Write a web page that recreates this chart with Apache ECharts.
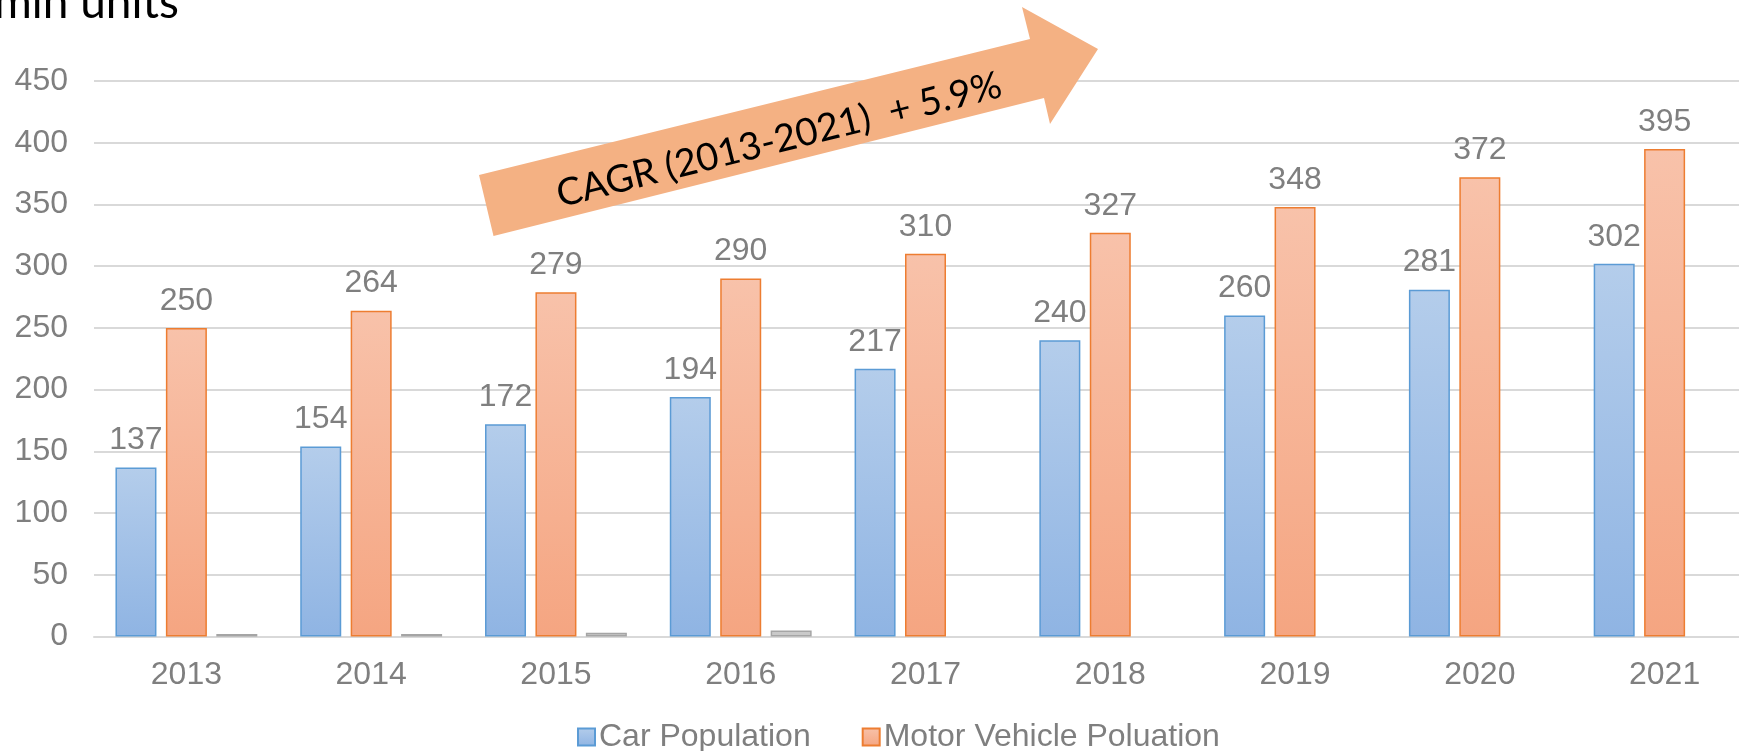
<!DOCTYPE html>
<html>
<head>
<meta charset="utf-8">
<script src="https://cdn.jsdelivr.net/npm/echarts@6/dist/echarts.min.js"></script>
<style>
  html, body { margin: 0; padding: 0; background: #ffffff; }
  #chart { width: 1739px; height: 751px; }
</style>
</head>
<body>
<div id="chart"></div>
<script>
var categories = ['2013', '2014', '2015', '2016', '2017', '2018', '2019', '2020', '2021'];
var carPopulation = [137, 154, 172, 194, 217, 240, 260, 281, 302];
var motorVehiclePopulation = [250, 264, 279, 290, 310, 327, 348, 372, 395];
var otherSeries = [2.2, 2.2, 3.1, 4.9, null, null, null, null, null];
var yTicks = { min: 0, max: 450, interval: 50 };
var unitLabel = 'mln units';
var cagrLabel = 'CAGR (2013-2021)  + 5.9%';

var chart = echarts.init(document.getElementById('chart'));
var labelFont = 'Liberation Sans, Arial, sans-serif';
var grey = '#7f7f7f';

function grad(top, bottom) {
  return new echarts.graphic.LinearGradient(0, 0, 0, 1, [
    { offset: 0, color: top }, { offset: 1, color: bottom }
  ]);
}

chart.setOption({
  animation: false,
  backgroundColor: '#ffffff',
  grid: { left: 94, top: 81, right: -18, bottom: 114.4, containLabel: false, outerBoundsMode: 'none' },
  legend: {
    data: ['Car Population', 'Motor Vehicle Poluation'],
    left: 572, top: 716,
    itemWidth: 17, itemHeight: 17, itemGap: 51,
    textStyle: { fontFamily: labelFont, fontSize: 32, color: grey, padding: [0, 0, 0, -1] },
    icon: 'rect'
  },
  xAxis: {
    type: 'category',
    data: categories,
    axisLine: { lineStyle: { color: '#d9d9d9', width: 2 } },
    axisTick: { show: false },
    axisLabel: { fontFamily: labelFont, fontSize: 32, color: grey, margin: 23 }
  },
  yAxis: {
    type: 'value',
    min: yTicks.min, max: yTicks.max, interval: yTicks.interval,
    axisLine: { show: false },
    axisTick: { show: false },
    splitLine: { lineStyle: { color: '#d9d9d9', width: 2 } },
    axisLabel: { fontFamily: labelFont, fontSize: 32, color: grey, margin: 26 }
  },
  series: [
    {
      name: 'Car Population', type: 'bar', data: carPopulation,
      barWidth: 41, barGap: '23%',
      itemStyle: { color: grad('#b4cdeb', '#8fb4e3'), borderColor: '#5b9bd5', borderWidth: 1.5 },
      label: { show: true, position: 'top', distance: 11, fontFamily: labelFont, fontSize: 32, color: grey }
    },
    {
      name: 'Motor Vehicle Poluation', type: 'bar', data: motorVehiclePopulation,
      barWidth: 41,
      itemStyle: { color: grad('#f8c2aa', '#f5a581'), borderColor: '#ed7d31', borderWidth: 1.5 },
      label: { show: true, position: 'top', distance: 11, fontFamily: labelFont, fontSize: 32, color: grey }
    },
    {
      name: 'Other', type: 'bar', data: otherSeries,
      barWidth: 41,
      itemStyle: { color: '#c9c9c9', borderColor: '#a5a5a5', borderWidth: 1.5 },
      label: { show: false }
    }
  ],
  graphic: [
    {
      type: 'polygon',
      shape: { points: [[479, 175], [1030, 39], [1022, 7], [1098, 49], [1050, 124], [1044, 98], [493.5, 236]] },
      style: { fill: '#f4b183' },
      z: 10
    },
    {
      type: 'text',
      x: 779, y: 140, rotation: 0.245,
      style: {
        text: cagrLabel, x: 0, y: 0,
        align: 'center', verticalAlign: 'middle',
        textAlign: 'center', textVerticalAlign: 'middle',
        font: '38px Lato, "Open Sans", sans-serif', fill: '#000000'
      },
      z: 11
    },
    {
      type: 'text',
      x: -6, y: 26,
      style: {
        text: unitLabel, x: 0, y: 0,
        align: 'left', verticalAlign: 'bottom',
        textAlign: 'left', textVerticalAlign: 'bottom',
        font: '46px Lato, "Open Sans", sans-serif', fill: '#000000'
      },
      z: 11
    }
  ]
});
</script>
</body>
</html>
